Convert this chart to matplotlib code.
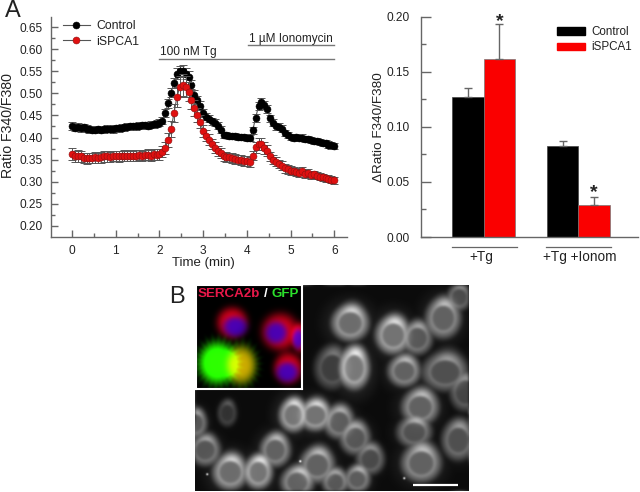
import numpy as np
import matplotlib
matplotlib.use('Agg')
import matplotlib.pyplot as plt
from matplotlib.patches import Patch

plt.rcParams['font.family'] = ['Liberation Sans', 'DejaVu Sans']

W, H = 640, 492
GRAY = '#666666'
TXT = '#222222'

# time course, one reading every 4 s
n_points = 91
control = [.427,.422,.424,.421,.423,.420,.419,.418,.418,.419,
           .418,.419,.420,.420,.419,.421,.421,.422,.423,.424,
           .425,.425,.426,.427,.428,.428,.427,.429,.430,.431,
           .433,.438,.456,.478,.502,.524,.545,.550,.552,.545,
           .538,.520,.496,.485,.472,.455,.447,.443,.437,.433,
           .427,.418,.406,.405,.404,.403,.403,.402,.401,.401,
           .400,.399,.416,.445,.471,.480,.473,.464,.444,.433,
           .426,.424,.420,.410,.406,.402,.400,.401,.399,.400,
           .397,.396,.395,.392,.393,.390,.388,.387,.384,.382,.380]
ispca = [.363,.357,.358,.357,.354,.353,.354,.354,.355,.354,
         .355,.357,.357,.356,.358,.358,.357,.358,.359,.358,
         .359,.358,.359,.360,.358,.360,.361,.359,.362,.361,
         .362,.368,.376,.395,.419,.456,.492,.515,.520,.515,
         .504,.485,.466,.451,.436,.415,.404,.395,.385,.377,
         .370,.365,.357,.356,.355,.353,.352,.350,.349,.347,
         .346,.345,.359,.378,.385,.385,.376,.370,.357,.350,
         .345,.340,.336,.330,.328,.325,.324,.322,.320,.323,
         .318,.319,.316,.317,.313,.311,.310,.308,.306,.304,.303]
control_err = [.009,.008,.008,.008,.008,.008,.008,.008,.008,.008,
               .008,.008,.008,.008,.008,.008,.008,.008,.008,.008,
               .008,.008,.008,.008,.008,.008,.008,.008,.008,.008,
               .008,.008,.009,.010,.010,.011,.012,.012,.012,.012,
               .012,.011,.011,.010,.010,.009,.008,.008,.008,.008,
               .008,.008,.007,.007,.007,.007,.007,.007,.007,.007,
               .007,.007,.008,.009,.009,.010,.009,.009,.008,.008,
               .008,.008,.008,.007,.007,.007,.007,.007,.007,.007,
               .007,.007,.007,.007,.007,.007,.007,.007,.007,.007,.007]
ispca_err = [.014,.013,.013,.012,.012,.012,.012,.012,.012,.012,
             .012,.012,.012,.012,.012,.012,.012,.012,.012,.012,
             .012,.012,.012,.012,.012,.012,.012,.012,.012,.012,
             .012,.012,.013,.016,.018,.021,.023,.024,.025,.024,
             .022,.020,.018,.016,.015,.014,.013,.012,.012,.012,
             .011,.011,.011,.011,.011,.011,.011,.011,.011,.011,
             .011,.011,.011,.012,.013,.014,.013,.012,.011,.011,
             .010,.010,.010,.010,.010,.010,.010,.009,.009,.009,
             .009,.009,.009,.008,.008,.008,.008,.008,.008,.008,.008]

# bar panel
groups = ['+Tg', '+Tg +Ionom']
bar_control = [.127, .083]
bar_ispca = [.162, .029]
bar_control_err = [.008, .0045]
bar_ispca_err = [.031, .007]

# micrograph cells: centre x, centre y, radius x, radius y, brightness (figure pixels)
cells = [(350,323,17,16,.9),(393,335,16,17,.95),(417,338,14,15,.7),(443,318,16,18,.8),
         (459,297,11,12,.6),(404,371,15,14,.8),(332,368,16,19,.5),(354,368,14,19,1.0),
         (445,372,21,17,.65),(465,392,14,17,.55),(420,407,17,16,.8),(315,415,15,14,.95),
         (339,422,14,15,.75),(355,438,14,15,.7),(414,432,16,14,.65),(458,440,15,18,.65),
         (317,465,16,16,.8),(370,459,13,14,.6),(421,463,18,17,.8),(357,479,12,12,.75),
         (293,415,13,15,.95),(275,450,14,15,.8),(230,472,16,16,.9),(205,450,14,14,.7),
         (258,472,13,15,.95),(227,413,9,12,.4),(195,423,11,13,.7),(297,482,15,14,.8),
         (335,482,12,12,.7)]
bright_spots = [(207,474),(404,478),(300,461)]
# inset cells: centre x, centre y, radius x, radius y
red_cells = [(232,323,15,15),(280,332,18,18),(300,338,8,14),(288,368,14,15)]
nuclei = [(235,327,12,10),(276,333,11,11),(298,339,6,10),(287,372,11,10)]
green_cells = [(217,363,18,20)]
yellow_cells = [(241,365,14,18)]


def px_axes(left, top, right, bottom):
  return fig.add_axes([left / W, 1 - bottom / H, (right - left) / W, (bottom - top) / H])


def ell(xx, yy, c):
  return np.sqrt(((xx - c[0]) / c[2]) ** 2 + ((yy - c[1]) / c[3]) ** 2)


def blur(img, n):
  # repeated 3x3 averaging
  for _ in range(n):
    img = (np.roll(img, 1, 0) + img + np.roll(img, -1, 0)) / 3
    img = (np.roll(img, 1, 1) + img + np.roll(img, -1, 1)) / 3
  return img


def draw_micrograph(ax, left, top, right, bottom):
  xx, yy = np.meshgrid(np.arange(left, right, 0.5), np.arange(top, bottom, 0.5))
  img = np.full(xx.shape, 0.05)
  for c in cells:
    d = ell(xx, yy, c)
    amp = c[4]
    core = 0.46 * (d < 0.72)
    ring = 0.18 * np.exp(-((d - 0.72) / 0.06) ** 2)
    halo = 0.55 * np.exp(-((d - 0.78) / 0.42) ** 2) * (d >= 0.72)
    glow = 0.2 * np.exp(-(d / 1.8) ** 2)
    # bright crescent of reticulum at the top of each cell
    cap = 0.35 * np.exp(-((xx - c[0] - c[2] * .15) ** 2 + (yy - c[1] + c[3] * .85) ** 2) / (c[2] * .6) ** 2)
    cell = amp * (np.maximum(core, halo + cap * (d >= 0.6)) + ring)
    img = np.maximum(img, cell + img * 0.3)
    img = np.maximum(img, amp * glow)
  img = blur(img, 9)
  for s in bright_spots:
    img += 0.8 * np.exp(-((xx - s[0]) ** 2 + (yy - s[1]) ** 2) / 1.2)
  ax.imshow(np.clip(img, 0, 1), cmap='gray', vmin=0, vmax=1, extent=(left, right, bottom, top),
            aspect='auto', interpolation='bilinear', zorder=0)
  ax.plot([413, 458], [485, 485], color='white', lw=1.6, solid_capstyle='butt', zorder=3)
  ax.set_xlim(left, right)
  ax.set_ylim(bottom, top)
  ax.axis('off')


def draw_inset(ax, left, top, right, bottom):
  xx, yy = np.meshgrid(np.arange(left, right, 0.5), np.arange(top, bottom, 0.5))
  rgb = np.zeros(xx.shape + (3,))
  for c in red_cells:
    m = np.exp(-ell(xx, yy, c) ** 4)
    rgb[..., 0] += 0.85 * m
    rgb[..., 2] += 0.1 * m
  for c in nuclei:
    m = np.exp(-ell(xx, yy, c) ** 4)
    rgb[..., 0] *= 1 - 0.65 * m
    rgb[..., 2] += 0.6 * m
  for c in green_cells:
    ang = np.arctan2(yy - c[1], xx - c[0])
    spiky = ell(xx, yy, c) * (1 + 0.07 * np.sin(26 * ang))
    rgb[..., 1] += 0.95 * np.exp(-(ell(xx, yy, c) / 0.95) ** 4) + 0.28 * np.exp(-(spiky / 1.2) ** 6)
    rgb[..., 0] += 0.18 * np.exp(-ell(xx, yy, c) ** 4)
  for c in yellow_cells:
    ang = np.arctan2(yy - c[1], xx - c[0])
    spiky = ell(xx, yy, c) * (1 + 0.07 * np.sin(22 * ang))
    m = np.exp(-ell(xx, yy, c) ** 4)
    rgb[..., 1] += 0.45 * m + 0.22 * np.exp(-(spiky / 1.3) ** 6)
    rgb[..., 0] += 0.8 * m
  rgb = np.dstack([blur(rgb[..., k], 2) for k in range(3)])
  ax.imshow(np.clip(rgb, 0, 1), extent=(left, right, bottom, top), aspect='auto', interpolation='bilinear')
  ax.set_xticks([])
  ax.set_yticks([])
  for s in ax.spines.values():
    s.set_color('white')
    s.set_linewidth(1.5)
  ax.text(0.012, 0.913, 'SERCA2b', color='#e8184a', fontsize=9.6, fontweight='bold', transform=ax.transAxes, va='center')
  ax.text(0.64, 0.913, '/', color='white', fontsize=9.6, fontweight='bold', transform=ax.transAxes, va='center')
  ax.text(0.714, 0.913, 'GFP', color='#2be02b', fontsize=9.6, fontweight='bold', transform=ax.transAxes, va='center')


def style_axes(ax):
  ax.spines['top'].set_visible(False)
  ax.spines['right'].set_visible(False)
  for s in ['left', 'bottom']:
    ax.spines[s].set_color(GRAY)
    ax.spines[s].set_linewidth(1)
  ax.tick_params(which='major', direction='in', length=5, color=GRAY, width=1,
                 labelsize=8.6, labelcolor=TXT, pad=6)
  ax.tick_params(which='minor', direction='in', length=3, color=GRAY, width=1)


fig = plt.figure(figsize=(W / 100, H / 100), dpi=100)

# panel A, time course
ax = px_axes(50.7, 17, 347, 236.7)
time = np.arange(n_points) / 15
for y, e, col, lab, z in [(control, control_err, 'black', 'Control', 3), (ispca, ispca_err, '#e01010', 'iSPCA1', 4)]:
  ax.errorbar(time, y, yerr=e, fmt='none', ecolor='#555555', elinewidth=0.7, capsize=2.6, capthick=0.7, zorder=z - 1)
  ax.plot(time, y, '-o', color='#555555', lw=0.8, ms=5, mfc=col, mec=col if col == 'black' else '#8a1010',
          mew=0.4, label=lab, zorder=z)
ax.set_xlim(-0.487, 6.29)
ax.set_ylim(0.175, 0.6734)
ax.set_xticks(range(7))
ax.set_xticks(np.arange(0.5, 6, 1), minor=True)
ax.set_yticks(np.arange(0.20, 0.66, 0.05))
ax.set_yticks(np.arange(0.225, 0.65, 0.05), minor=True)
ax.set_yticklabels(['%.2f' % v for v in np.arange(0.20, 0.66, 0.05)])
style_axes(ax)
ax.legend(loc='upper left', bbox_to_anchor=(0.04, 0.987), frameon=False, fontsize=8.8, handlelength=2.23,
          handletextpad=0.5, labelspacing=0.3, borderpad=0, borderaxespad=0, labelcolor=TXT)
ax.plot([2, 6], [.5775, .5775], color='#777777', lw=1)
ax.plot([4.03, 6], [.61, .61], color='#777777', lw=1)
ax.text(2.02, .580, '100 nM Tg', fontsize=8.6, color=TXT, va='bottom')
ax.text(4.05, .6105, '1 \u00b5M Ionomycin', fontsize=8.5, color=TXT, va='bottom')
fig.text(203 / W, 1 - 263 / H, 'Time (min)', fontsize=9.5, color=TXT, ha='center', va='center')
fig.text(8 / W, 1 - 126 / H, 'Ratio F340/F380', fontsize=10.2, color=TXT, rotation=90, ha='center', va='center')
fig.text(5 / W, 1 - 17 / H, 'A', fontsize=17, color=TXT, ha='left', va='baseline')
fig.text(169 / W, 1 - 303 / H, 'B', fontsize=17, color=TXT, ha='left', va='baseline')

# panel A, bars
bx = px_axes(420.7, 16.7, 638, 237)
pos = np.arange(len(groups))
w = 1 / 3
bx.bar(pos - w / 2, bar_control, w, color='black', edgecolor='#444444', lw=0.5, label='Control',
       yerr=[[0, 0], bar_control_err], ecolor=GRAY, capsize=3.2, error_kw={'lw': 1, 'capthick': 1})
bx.bar(pos + w / 2, bar_ispca, w, color='#fa0000', edgecolor='#777777', lw=0.5, label='iSPCA1',
       yerr=[[0, 0], bar_ispca_err], ecolor=GRAY, capsize=3.2, error_kw={'lw': 1, 'capthick': 1})
bx.set_xlim(-0.665, 1.63)
bx.set_ylim(0, 0.20)
bx.set_xticks([])
bx.set_yticks(np.arange(0, 0.21, 0.05))
bx.set_yticks(np.arange(0.025, 0.2, 0.05), minor=True)
bx.set_yticklabels(['%.2f' % v for v in np.arange(0, 0.21, 0.05)])
style_axes(bx)
bx.tick_params(axis='y', which='major', length=7, pad=8)
bx.tick_params(axis='y', which='minor', length=3.5)
handles = [Patch(color='black', label='Control'), Patch(color='#fa0000', label='iSPCA1')]
bx.legend(handles=handles, loc='upper left', bbox_to_anchor=(0.626, 0.958), frameon=False, fontsize=8.4,
          handlelength=2.4, handleheight=0.6, handletextpad=0.6, labelspacing=0.3, borderpad=0, borderaxespad=0,
          labelcolor=TXT)
fig.text(499.3 / W, 1 - 22 / H, '*', fontsize=14, fontweight='bold', color=TXT, ha='center', va='center')
fig.text(594 / W, 1 - 193 / H, '*', fontsize=14, fontweight='bold', color=TXT, ha='center', va='center')
fig.add_artist(plt.Line2D([452 / W, 516.7 / W], [1 - 247.3 / H] * 2, color=GRAY, lw=0.9))
fig.add_artist(plt.Line2D([546 / W, 611 / W], [1 - 247.3 / H] * 2, color=GRAY, lw=0.9))
fig.text(481.7 / W, 1 - 257 / H, groups[0], fontsize=9.8, color=TXT, ha='center', va='center')
fig.text(580 / W, 1 - 257 / H, groups[1], fontsize=9.8, color=TXT, ha='center', va='center')
fig.text(379 / W, 1 - 127 / H, '\u0394Ratio F340/F380', fontsize=9.7, color=TXT, rotation=90, ha='center', va='center')

# panel B
mx = px_axes(195, 285, 469, 491)
draw_micrograph(mx, 195, 285, 469, 491)
ix = px_axes(196, 285, 302, 389)
draw_inset(ix, 196, 285, 302, 389)

fig.savefig('out.png', dpi=100)
